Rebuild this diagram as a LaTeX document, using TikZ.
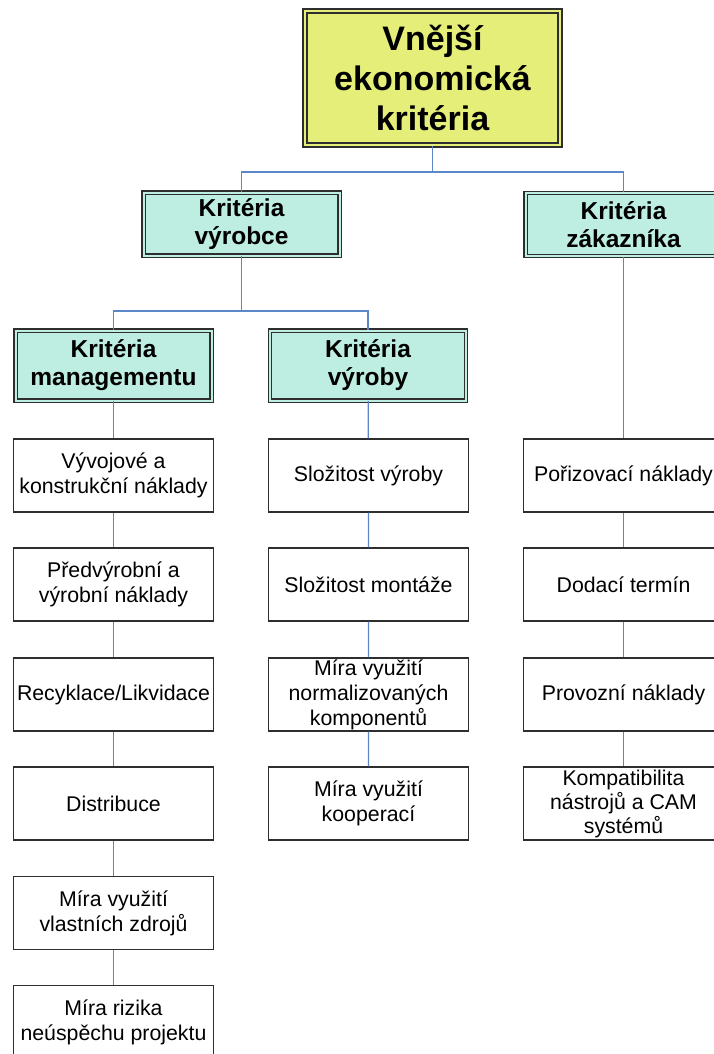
\documentclass[tikz,border=0pt]{standalone}
\usepackage{fontspec}
\setmainfont{Liberation Sans}

\definecolor{vnejsiyellow}{HTML}{E6EE7A}
\definecolor{skupinateal}{HTML}{BDEEE1}
\definecolor{spojblue}{HTML}{5B87C8}
\definecolor{ramgray}{HTML}{2E2E2E}

\begin{document}
\begin{tikzpicture}[x=1pt,y=-1pt]
   \tikzstyle{hlavni}=[draw=ramgray, line width=1.5pt, double=vnejsiyellow, double distance=2.2pt, fill=vnejsiyellow, inner sep=0pt, minimum width=255pt, minimum height=134pt, align=center, font=\bfseries\fontsize{34}{40}\selectfont]
   \tikzstyle{skupina}=[draw=ramgray, line width=1.4pt, double=skupinateal, double distance=2pt, fill=skupinateal, inner sep=0pt, minimum width=196pt, align=center, font=\bfseries\fontsize{24.5}{28}\selectfont]
   \tikzstyle{polozka}=[draw=ramgray, line width=1.3pt, fill=white, inner sep=0pt, minimum width=200pt, minimum height=73pt, align=center, font=\fontsize{21.3}{25}\selectfont]
   \tikzstyle{spoj}=[draw=spojblue, line width=1.3pt]

\useasboundingbox (0,0) rectangle (714,1054);

% hlavni uzel a skupiny kriterii
\node[hlavni] (vnejsi) at (432.5,78) {Vnější\\ekonomická\\kritéria};
\node[skupina, minimum height=63pt] (vyrobce) at (241.5,224) {Kritéria\\výrobce};
\node[skupina, minimum height=63pt] (zakaznik) at (623.5,224.5) {Kritéria\\zákazníka};
\node[skupina, minimum height=70pt] (management) at (113.5,365.5) {Kritéria\\managementu};
\node[skupina, minimum height=70pt] (vyroba) at (368,365.5) {Kritéria\\výroby};

% kriteria managementu
\node[polozka] (m1) at (113.5,475.5) {Vývojové a\\konstrukční náklady};
\node[polozka] (m2) at (113.5,584.5) {Předvýrobní a\\výrobní náklady};
\node[polozka] (m3) at (113.5,694.5) {Recyklace/Likvidace};
\node[polozka] (m4) at (113.5,803.5) {Distribuce};
\node[polozka] (m5) at (113.5,913) {Míra využití\\vlastních zdrojů};
\node[polozka] (m6) at (113.5,1022) {Míra rizika\\neúspěchu projektu};

% kriteria vyroby
\node[polozka] (v1) at (368.5,475.5) {Složitost výroby};
\node[polozka] (v2) at (368.5,584.5) {Složitost montáže};
\node[polozka] (v3) at (368.5,694.5) {Míra využití\\normalizovaných\\komponentů};
\node[polozka] (v4) at (368.5,803.5) {Míra využití\\kooperací};

% kriteria zakaznika
\node[polozka] (z1) at (623.5,475.5) {Pořizovací náklady};
\node[polozka] (z2) at (623.5,584.5) {Dodací termín};
\node[polozka] (z3) at (623.5,694.5) {Provozní náklady};
\node[polozka, font=\fontsize{21.3}{24}\selectfont] (z4) at (623.5,803.5) {Kompatibilita\\nástrojů a CAM\\systémů};

% rozvetveni
\coordinate (f1) at (432.5,172);
\coordinate (f2) at (241.5,311);
\draw[spoj] (vnejsi.south) -- (f1);
\draw[spoj] (vyrobce.north) |- (f1) -| (zakaznik.north);
\draw[spoj] (vyrobce.south) -- (f2);
\draw[spoj] (management.north) |- (f2) -| (vyroba.north);

% sloupce
\draw[spoj] (management) -- (m1) (m1) -- (m2) (m2) -- (m3) (m3) -- (m4) (m4) -- (m5) (m5) -- (m6);
\draw[spoj] (vyroba) -- (v1) (v1) -- (v2) (v2) -- (v3) (v3) -- (v4);
\draw[spoj] (zakaznik) -- (z1) (z1) -- (z2) (z2) -- (z3) (z3) -- (z4);

\end{tikzpicture}
\end{document}
